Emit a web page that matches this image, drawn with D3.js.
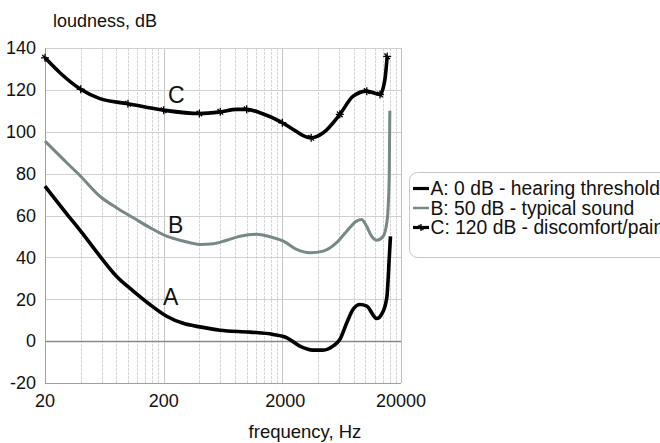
<!DOCTYPE html>
<html>
<head>
<meta charset="utf-8">
<script src="https://cdn.jsdelivr.net/npm/d3@7"></script>
<style>
html,body{margin:0;padding:0;background:#fff;overflow:hidden;}
svg{display:block;font-family:"Liberation Sans",Arial,sans-serif;}
</style>
</head>
<body>
<svg id="chart" width="660" height="443"></svg>
<script>
// ---- data ----
const xTickLabels = [20, 200, 2000, 20000];
const yTickLabels = [-20, 0, 20, 40, 60, 80, 100, 120, 140];

const freqA = [20, 30, 40, 58, 80, 111, 153, 212, 292, 404, 596, 1070, 1670, 2190, 2810, 3620, 4400, 5340, 6110, 7000, 7870, 9020, 10300, 12500, 13800, 15200, 15900, 16300];
const valA  = [74, 61.3, 52.5, 40.6, 31, 23.9, 17.5, 11.9, 8.5, 6.8, 5.2, 4.3, 3.2, 1.6, -2.4, -4.3, -4.3, -2.4, 0.8, 8.9, 15.1, 17.5, 16.7, 10.8, 13, 21, 39, 50];

const freqB = [20, 30.5, 39.4, 58, 80, 111, 153, 212, 292, 404, 525, 680, 880, 1210, 1680, 2040, 2640, 3420, 4430, 5730, 6970, 8450, 9310, 10260, 11300, 12470, 14160, 15310, 15920, 16100];
const valB  = [95.5, 85.2, 79.1, 69.2, 63.7, 58.9, 54.2, 50.1, 47.8, 46.2, 46.5, 48.2, 50.1, 51, 49.4, 47.8, 43.8, 42.2, 43, 47, 52.5, 57.3, 58.1, 54.9, 50.1, 48.2, 50.1, 58.1, 78.8, 110];

const freqC = [20, 26.7, 40, 58, 100, 200, 400, 600, 824, 1000, 1295, 2000, 2472, 3205, 3500, 4425, 6100, 7910, 10300, 13300, 14630, 15300];
const valC  = [135.3, 128.2, 120.3, 115.8, 113.4, 110.3, 108.7, 109.5, 110.7, 110.7, 109.1, 104.3, 101.1, 97.5, 97.1, 99.5, 108.3, 117, 119.4, 117.8, 124.9, 136];
const markerFreqC = [20, 40, 100, 200, 400, 600, 1000, 2000, 3500, 6100, 10300, 13300, 15300];

const seriesNames = ["A: 0 dB - hearing threshold", "B: 50 dB - typical sound", "C: 120 dB - discomfort/pain"];
const curveLabels = ["A", "B", "C"];

// ---- layout ----
const svg = d3.select("#chart");
const x = d3.scaleLog().domain([20, 20000]).range([45, 401]);
const y = d3.scaleLinear().domain([-20, 140]).range([383, 48]);

// vertical grid lines: 2,4,6,...,20 x 10^n
const vGrid = [];
[10, 100, 1000].forEach(dec => {
  for (let k = 2; k <= 20; k += 2) vGrid.push(k * dec);
});
const uniqV = Array.from(new Set(vGrid)).filter(f => f >= 20 && f <= 20000);

const grid = svg.append("g");
grid.selectAll("line.v").data(uniqV).enter().append("line")
  .attr("x1", d => Math.round(x(d)) + 0.5).attr("x2", d => Math.round(x(d)) + 0.5)
  .attr("y1", y(140)).attr("y2", y(-20))
  .attr("stroke", d => xTickLabels.includes(d) ? "#c4c4c4" : "#d6d6d6")
  .attr("stroke-width", 1)
  .attr("stroke-dasharray", d => xTickLabels.includes(d) ? null : "3,1");

grid.selectAll("line.h").data(yTickLabels).enter().append("line")
  .attr("x1", x(20)).attr("x2", x(20000))
  .attr("y1", d => Math.round(y(d)) + 0.5).attr("y2", d => Math.round(y(d)) + 0.5)
  .attr("stroke", d => d === 0 ? "#8a8a8a" : "#d0d0d0")
  .attr("stroke-width", d => d === 0 ? 1.3 : 1);

// plot frame (left, bottom, right)
svg.append("line").attr("x1", Math.round(x(20)) + 0.5).attr("x2", Math.round(x(20)) + 0.5)
  .attr("y1", y(140)).attr("y2", y(-20)).attr("stroke", "#a0a0a0");
svg.append("line").attr("x1", x(20)).attr("x2", x(20000))
  .attr("y1", Math.round(y(-20)) + 0.5).attr("y2", Math.round(y(-20)) + 0.5).attr("stroke", "#a0a0a0");
svg.append("line").attr("x1", Math.round(x(20000)) + 0.5).attr("x2", Math.round(x(20000)) + 0.5)
  .attr("y1", y(140)).attr("y2", y(-20)).attr("stroke", "#c0c0c0");

// axes labels
svg.append("g").selectAll("text").data(yTickLabels).enter().append("text")
  .attr("x", 36).attr("y", d => y(d)).attr("dy", "0.35em")
  .attr("text-anchor", "end").attr("font-size", 18).attr("fill", "#111")
  .text(d => d);
svg.append("g").selectAll("text").data(xTickLabels).enter().append("text")
  .attr("x", d => x(d) + (d === 2000 ? 3 : 0)).attr("y", 407)
  .attr("text-anchor", "middle").attr("font-size", 18).attr("fill", "#111")
  .text(d => d);

svg.append("text").attr("x", 53).attr("y", 27).attr("font-size", 18).attr("fill", "#111").text("loudness, dB");
svg.append("text").attr("x", 305).attr("y", 438).attr("text-anchor", "middle").attr("font-size", 18.5).attr("fill", "#111").text("frequency, Hz");

// ---- curves ----
const line = d3.line().x(d => x(d[0])).y(d => y(d[1])).curve(d3.curveMonotoneX);
const dataA = freqA.map((f, i) => [f, valA[i]]);
const dataB = freqB.map((f, i) => [f, valB[i]]);
const dataC = freqC.map((f, i) => [f, valC[i]]);
const colA = "#000", colB = "#788886", colC = "#000";

svg.append("path").attr("d", line(dataB)).attr("fill", "none").attr("stroke", colB).attr("stroke-width", 3);
svg.append("path").attr("d", line(dataA)).attr("fill", "none").attr("stroke", colA).attr("stroke-width", 3.6);
svg.append("path").attr("d", line(dataC)).attr("fill", "none").attr("stroke", colC).attr("stroke-width", 3.6);

const plusPath = (cx, cy, r) => `M${cx - r},${cy}H${cx + r}M${cx},${cy - r}V${cy + r}M${cx - r * 0.7},${cy - r * 0.7}L${cx + r * 0.7},${cy + r * 0.7}`;
svg.append("g").selectAll("path").data(dataC.filter(d => markerFreqC.includes(d[0]))).enter().append("path")
  .attr("d", d => plusPath(x(d[0]), y(d[1]), 4))
  .attr("stroke", "#000").attr("stroke-width", 1.3).attr("fill", "none");

// curve labels
const labelPos = [[163, 305], [168, 233], [168, 103]];
svg.append("g").selectAll("text").data(curveLabels).enter().append("text")
  .attr("x", (d, i) => labelPos[i][0]).attr("y", (d, i) => labelPos[i][1])
  .attr("font-size", 23).attr("fill", "#111").text(d => d);

// ---- legend ----
const lg = svg.append("g");
lg.append("rect").attr("x", 409.5).attr("y", 172.5).attr("width", 290).attr("height", 85).attr("rx", 8)
  .attr("fill", "#fff").attr("stroke", "#c6c6c6").attr("stroke-width", 1);
const legCols = [colA, colB, colC];
const legW = [3.2, 2.5, 3.2];
seriesNames.forEach((name, i) => {
  const cy = 188.5 + i * 19.5;
  lg.append("line").attr("x1", 413).attr("x2", 429).attr("y1", cy).attr("y2", cy)
    .attr("stroke", legCols[i]).attr("stroke-width", legW[i]);
  if (i === 2) lg.append("path").attr("d", plusPath(421, cy, 3.5)).attr("stroke", "#000").attr("stroke-width", 1.3);
  lg.append("text").attr("x", 430.5).attr("y", cy).attr("dy", "0.36em")
    .attr("font-size", 19.3).attr("fill", "#111").text(name);
});
</script>
</body>
</html>
